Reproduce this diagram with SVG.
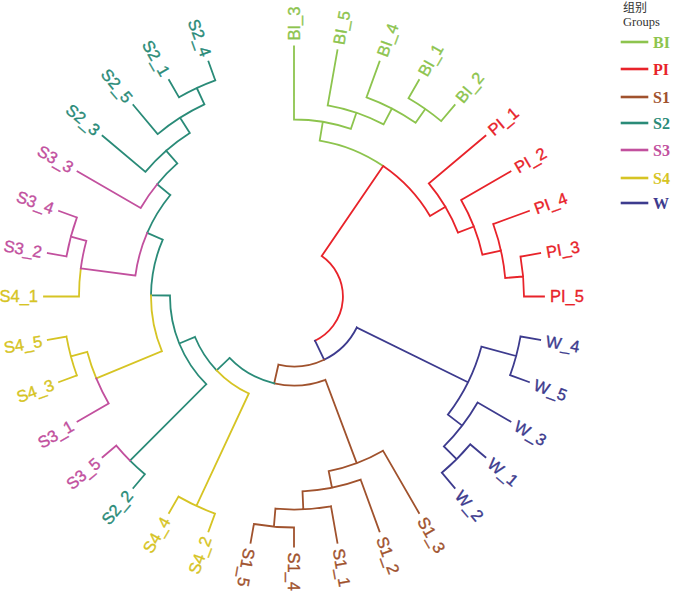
<svg xmlns="http://www.w3.org/2000/svg" width="700" height="595" viewBox="0 0 700 595">
<style>
path{fill:none;stroke-width:1.8;stroke-linecap:square}
.cBI{stroke:#8DC44E}.cPI{stroke:#E8232A}.cS1{stroke:#A0522D}.cS2{stroke:#2A8B78}.cS3{stroke:#C2509E}.cS4{stroke:#D6C424}.cW{stroke:#3D3B8E}
text.lb{font-family:"Liberation Sans",Arial,sans-serif;font-size:16.5px;stroke-width:0.35px}
.tBI{fill:#8DC44E;stroke:#8DC44E}.tPI{fill:#E8232A;stroke:#E8232A}.tS1{fill:#A0522D;stroke:#A0522D}.tS2{fill:#2A8B78;stroke:#2A8B78}.tS3{fill:#C2509E;stroke:#C2509E}.tS4{fill:#D6C424;stroke:#D6C424}.tW{fill:#3D3B8E;stroke:#3D3B8E}
.lg{font-family:"Liberation Serif","Times New Roman",serif;font-size:16px;font-weight:bold;stroke:none}
.lgl{stroke-width:2.6}
</style>
<rect width="700" height="595" fill="#fff"/>
<g id="connectors">
<path class="cBI" d="M319.7,140.6 A158,158 0 0 1 383.2,166.1 M319.7,140.6 L322.8,121.9 M294,119.5 A177,177 0 0 1 350.9,128.9 M294,119.5 L294,46.5 M350.9,128.9 L356.4,112.8 M327.7,105.4 A194,194 0 0 1 383.6,124.4 M327.7,105.4 L337.4,50.3 M383.6,124.4 L391.9,108.5 M366.5,97.3 A212,212 0 0 1 415.6,122.8 M366.5,97.3 L379.5,61.6 M415.6,122.8 L425.3,108.9 M408.5,98.2 A229,229 0 0 1 441.2,121.1 M408.5,98.2 L419,80 M441.2,121.1 L454.7,105"/>
<path class="cPI" d="M321.7,256.1 A49,49 0 0 1 315.0,340.7 M321.7,256.1 L383.2,166.1 M383.2,166.1 A158,158 0 0 1 430.0,216.0 M430.0,216.0 L445.5,206.8 M428.8,183.4 A176,176 0 0 1 458.0,232.7 M428.8,183.4 L485.5,135.8 M458.0,232.7 L473.9,226.5 M461.1,200.0 A193,193 0 0 1 482.4,254.7 M461.1,200.0 L510.5,171.5 M482.4,254.7 L501.0,250.6 M493.2,224.0 A212,212 0 0 1 505.2,278.0 M493.2,224.0 L528.9,211.0 M505.2,278.0 L523.1,276.5 M520.5,256.6 A230,230 0 0 1 524,296.5 M520.5,256.6 L540.2,253.1 M524,296.5 L544,296.5"/>
<path class="cW" d="M315.0,340.7 L324.1,359.7 M356.8,327.5 A70,70 0 0 1 324.1,359.7 M356.8,327.5 L468.0,382.3 M481.4,346.7 A194,194 0 0 1 447.9,414.6 M481.4,346.7 L516.2,356.0 M520.5,336.4 A230,230 0 0 1 510.1,375.2 M520.5,336.4 L540.2,339.9 M510.1,375.2 L528.9,382.0 M447.9,414.6 L462.2,425.6 M477.6,402.5 A212,212 0 0 1 443.9,446.4 M477.6,402.5 L510.5,421.5 M443.9,446.4 L456.6,459.1 M470.2,444.3 A230,230 0 0 1 441.8,472.7 M470.2,444.3 L485.5,457.2 M441.8,472.7 L454.7,488.0"/>
<path class="cS1" d="M324.1,359.7 A70,70 0 0 1 278.4,364.7 M278.4,364.7 L274.2,383.3 M325.4,379.8 A89,89 0 0 1 274.2,383.3 M325.4,379.8 L356.7,463.1 M383,450.7 A178,178 0 0 1 328.7,471.1 M383,450.7 L419,513 M328.7,471.1 L332.0,487.8 M360.7,479.7 A195,195 0 0 1 302.5,491.3 M360.7,479.7 L379.5,531.4 M302.5,491.3 L303.3,509.3 M331.0,506.3 A213,213 0 0 1 275.4,508.7 M331.0,506.3 L337.4,542.7 M275.4,508.7 L273.9,526.6 M294,527.5 A231,231 0 0 1 253.9,524.0 M294,527.5 L294,546.5 M253.9,524.0 L250.6,542.7"/>
<path class="cS2" d="M274.2,383.3 A89,89 0 0 1 229.6,357.9 M229.6,357.9 L216.6,370.3 M216.6,370.3 A107,107 0 0 1 195.0,337.0 M195.0,337.0 L179.3,343.5 M206.3,384.2 A124,124 0 0 1 170.0,295.5 M206.3,384.2 L130.0,460.6 M144.9,474.2 A232,232 0 0 1 130.0,460.6 M144.9,474.2 L133.3,488.0 M170.0,295.5 L151.0,295.3 M151.0,295.3 A143,143 0 0 1 162.8,239.6 M162.8,239.6 L147.2,232.9 M147.2,232.9 A160,160 0 0 1 170.3,195.0 M170.3,195.0 L157.2,184.2 M157.2,184.2 A177,177 0 0 1 177.3,163.4 M177.3,163.4 L166.1,150.6 M145.4,171.8 A194,194 0 0 1 189.8,132.9 M145.4,171.8 L102.5,135.8 M189.8,132.9 L180.1,117.7 M157.7,134.1 A212,212 0 0 1 204.4,104.4 M157.7,134.1 L133.3,105.0 M204.4,104.4 L196.8,88.0 M179,97.3 A230,230 0 0 1 215.3,80.4 M179,97.3 L169,80 M215.3,80.4 L208.5,61.6"/>
<path class="cS4" d="M248.8,393.5 A107,107 0 0 1 216.6,370.3 M248.8,393.5 L196.4,505.9 M215.0,513.6 A231,231 0 0 1 178.5,496.6 M215.0,513.6 L208.5,531.4 M178.5,496.6 L169,513 M161.9,351.2 A143,143 0 0 1 151.0,295.3 M161.9,351.2 L96.3,378.4 M96.3,378.4 A214,214 0 0 1 87.3,351.9 M87.3,351.9 L70.9,356.3 M76.9,375.5 A231,231 0 0 1 66.5,336.6 M76.9,375.5 L59.1,382.0 M66.5,336.6 L47.8,339.9 M79,296.5 A215,215 0 0 1 80.8,268.4 M79,296.5 L44,296.5"/>
<path class="cS3" d="M130.0,460.6 A232,232 0 0 1 116.3,445.6 M116.3,445.6 L102.5,457.2 M108.7,403.5 A214,214 0 0 1 96.3,378.4 M108.7,403.5 L77.5,421.5 M135.4,275.6 A160,160 0 0 1 147.2,232.9 M135.4,275.6 L80.8,268.4 M80.8,268.4 A215,215 0 0 1 86.3,240.9 M86.3,240.9 L70.9,236.7 M66.5,256.4 A231,231 0 0 1 76.9,217.5 M66.5,256.4 L47.8,253.1 M76.9,217.5 L59.1,211.0 M140.7,208.0 A177,177 0 0 1 157.2,184.2 M140.7,208.0 L77.5,171.5"/>
</g>
<g id="leaf-BI_3"><text class="lb tBI" transform="translate(294 40.5) rotate(-90)" dy="0.36em">BI_3</text></g>
<g id="leaf-BI_5"><text class="lb tBI" transform="translate(338.5 44.4) rotate(-80)" dy="0.36em">BI_5</text></g>
<g id="leaf-BI_4"><text class="lb tBI" transform="translate(381.6 55.9) rotate(-70)" dy="0.36em">BI_4</text></g>
<g id="leaf-BI_1"><text class="lb tBI" transform="translate(422 74.8) rotate(-60)" dy="0.36em">BI_1</text></g>
<g id="leaf-BI_2"><text class="lb tBI" transform="translate(458.6 100.4) rotate(-50)" dy="0.36em">BI_2</text></g>
<g id="leaf-PI_1"><text class="lb tPI" transform="translate(490.1 132) rotate(-40)" dy="0.36em">PI_1</text></g>
<g id="leaf-PI_2"><text class="lb tPI" transform="translate(515.7 168.5) rotate(-30)" dy="0.36em">PI_2</text></g>
<g id="leaf-PI_4"><text class="lb tPI" transform="translate(534.6 208.9) rotate(-20)" dy="0.36em">PI_4</text></g>
<g id="leaf-PI_3"><text class="lb tPI" transform="translate(546.1 252.1) rotate(-10)" dy="0.36em">PI_3</text></g>
<g id="leaf-PI_5"><text class="lb tPI" transform="translate(550 296.5)" dy="0.36em">PI_5</text></g>
<g id="leaf-W_4"><text class="lb tW" transform="translate(546.1 340.9) rotate(10)" dy="0.36em">W_4</text></g>
<g id="leaf-W_5"><text class="lb tW" transform="translate(534.6 384.1) rotate(20)" dy="0.36em">W_5</text></g>
<g id="leaf-W_3"><text class="lb tW" transform="translate(515.7 424.5) rotate(30)" dy="0.36em">W_3</text></g>
<g id="leaf-W_1"><text class="lb tW" transform="translate(490.1 461.1) rotate(40)" dy="0.36em">W_1</text></g>
<g id="leaf-W_2"><text class="lb tW" transform="translate(458.6 492.6) rotate(50)" dy="0.36em">W_2</text></g>
<g id="leaf-S1_3"><text class="lb tS1" transform="translate(422 518.2) rotate(60)" dy="0.36em">S1_3</text></g>
<g id="leaf-S1_2"><text class="lb tS1" transform="translate(381.6 537.1) rotate(70)" dy="0.36em">S1_2</text></g>
<g id="leaf-S1_1"><text class="lb tS1" transform="translate(338.5 548.6) rotate(80)" dy="0.36em">S1_1</text></g>
<g id="leaf-S1_4"><text class="lb tS1" transform="translate(294 552.5) rotate(90)" dy="0.36em">S1_4</text></g>
<g id="leaf-S1_5"><text class="lb tS1" transform="translate(249.6 548.6) rotate(100)" dy="0.36em">S1_5</text></g>
<g id="leaf-S4_2"><text class="lb tS4" text-anchor="end" transform="translate(206.4 537.1) rotate(-70)" dy="0.36em">S4_2</text></g>
<g id="leaf-S4_4"><text class="lb tS4" text-anchor="end" transform="translate(166 518.2) rotate(-60)" dy="0.36em">S4_4</text></g>
<g id="leaf-S2_2"><text class="lb tS2" text-anchor="end" transform="translate(129.4 492.6) rotate(-50)" dy="0.36em">S2_2</text></g>
<g id="leaf-S3_5"><text class="lb tS3" text-anchor="end" transform="translate(97.9 461.1) rotate(-40)" dy="0.36em">S3_5</text></g>
<g id="leaf-S3_1"><text class="lb tS3" text-anchor="end" transform="translate(72.3 424.5) rotate(-30)" dy="0.36em">S3_1</text></g>
<g id="leaf-S4_3"><text class="lb tS4" text-anchor="end" transform="translate(53.4 384.1) rotate(-20)" dy="0.36em">S4_3</text></g>
<g id="leaf-S4_5"><text class="lb tS4" text-anchor="end" transform="translate(41.9 340.9) rotate(-10)" dy="0.36em">S4_5</text></g>
<g id="leaf-S4_1"><text class="lb tS4" text-anchor="end" transform="translate(38 296.5)" dy="0.36em">S4_1</text></g>
<g id="leaf-S3_2"><text class="lb tS3" text-anchor="end" transform="translate(41.9 252.1) rotate(10)" dy="0.36em">S3_2</text></g>
<g id="leaf-S3_4"><text class="lb tS3" text-anchor="end" transform="translate(53.4 208.9) rotate(20)" dy="0.36em">S3_4</text></g>
<g id="leaf-S3_3"><text class="lb tS3" text-anchor="end" transform="translate(72.3 168.5) rotate(30)" dy="0.36em">S3_3</text></g>
<g id="leaf-S2_3"><text class="lb tS2" text-anchor="end" transform="translate(97.9 132) rotate(40)" dy="0.36em">S2_3</text></g>
<g id="leaf-S2_5"><text class="lb tS2" text-anchor="end" transform="translate(129.4 100.4) rotate(50)" dy="0.36em">S2_5</text></g>
<g id="leaf-S2_1"><text class="lb tS2" text-anchor="end" transform="translate(166 74.8) rotate(60)" dy="0.36em">S2_1</text></g>
<g id="leaf-S2_4"><text class="lb tS2" text-anchor="end" transform="translate(206.4 55.9) rotate(70)" dy="0.36em">S2_4</text></g>
<g id="legend">
<text x="623" y="12" style="font-family:'Liberation Serif','Noto Sans CJK SC',serif;font-size:12px;fill:#333">组别</text>
<text x="623" y="26" style="font-family:'Liberation Serif',serif;font-size:12.5px;fill:#333">Groups</text>
<path class="cBI lgl" d="M622,42 H647"/><text class="lg tBI" x="653" y="48">BI</text>
<path class="cPI lgl" d="M622,69 H647"/><text class="lg tPI" x="653" y="75">PI</text>
<path class="cS1 lgl" d="M622,97 H647"/><text class="lg tS1" x="653" y="103">S1</text>
<path class="cS2 lgl" d="M622,123 H647"/><text class="lg tS2" x="653" y="129">S2</text>
<path class="cS3 lgl" d="M622,150 H647"/><text class="lg tS3" x="653" y="156">S3</text>
<path class="cS4 lgl" d="M622,178 H647"/><text class="lg tS4" x="653" y="184">S4</text>
<path class="cW lgl" d="M622,203 H647"/><text class="lg tW" x="653" y="209">W</text>
</g>
</svg>
